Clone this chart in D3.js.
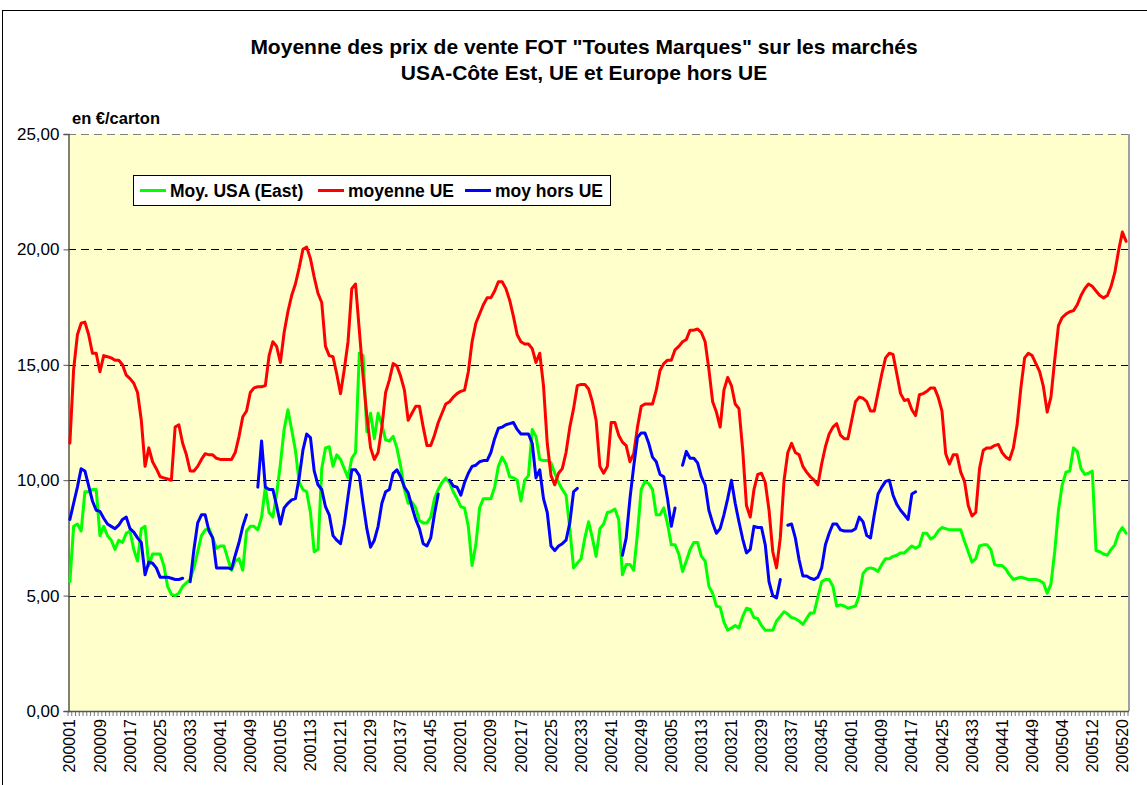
<!DOCTYPE html>
<html>
<head>
<meta charset="utf-8">
<script src="https://cdn.jsdelivr.net/npm/d3@7"></script>
<style>
  body { margin: 0; background: #fff; }
  svg { display: block; font-family: "Liberation Sans", Arial, sans-serif; }
</style>
</head>
<body>
<svg id="chart"></svg>
<script>
// weeks per year shown on the category axis (200001 .. 200521)
let yearWeeks = [[2000, 52], [2001, 52], [2002, 52], [2003, 52], [2004, 53], [2005, 21]]
let weeks = []
yearWeeks.forEach(([yr, n]) => {
  for (let k = 1; k <= n; k++) weeks.push(yr + String(k).padStart(2, '0'))
})

let yTicks = [0, 5, 10, 15, 20, 25]
let seriesNames = ['Moy. USA (East)', 'moyenne UE', 'moy hors UE']

// Moy. USA (East)
let usa = [
  5.6, 8.0, 8.1, 7.8, 9.5, 9.5, 9.6, 9.6, 7.6, 8.0,
  7.6, 7.4, 7.0, 7.4, 7.3, 7.7, 7.8, 7.0, 6.5, 7.9,
  8.0, 6.3, 6.8, 6.8, 6.8, 6.3, 5.4, 5.05, 5.0, 5.1,
  5.4, 5.55, 5.7, 6.2, 6.9, 7.6, 7.85, 7.9, 7.5, 7.05,
  7.15, 7.15, 6.6, 6.1, 6.5, 6.6, 6.1, 7.8, 8.0, 8.0,
  7.85, 8.4, 9.7, 8.6, 8.4, 9.4, 10.7, 12.2, 13.05, 12.2,
  11.3, 9.9, 9.6, 9.5, 8.6, 6.9, 7.0, 10.5, 11.4, 11.45,
  10.6, 11.1, 10.9, 10.5, 10.1, 10.95, 11.2, 15.5, 15.4, 12.1,
  12.9, 11.8, 12.9, 12.4, 11.75, 11.7, 11.9, 11.4, 10.6, 9.6,
  9.0, 9.05, 8.8, 8.25, 8.15, 8.15, 8.4, 9.2, 9.6, 9.9,
  10.1, 9.9, 9.5, 9.2, 8.85, 8.8, 8.0, 6.3, 7.2, 8.8,
  9.2, 9.2, 9.2, 9.7, 10.6, 11.0, 10.7, 10.15, 10.1, 10.0,
  9.1, 10.0, 10.2, 12.2, 11.9, 10.9, 10.85, 10.85, 10.75, 10.3,
  9.9, 9.6, 9.35, 7.9, 6.2, 6.4, 6.6, 7.5, 8.2, 7.5,
  6.7, 7.9, 8.1, 8.6, 8.65, 8.75, 8.3, 5.9, 6.35, 6.35,
  6.1, 7.7, 9.6, 9.95, 9.85, 9.6, 8.5, 8.5, 8.8, 8.1,
  7.2, 7.2, 6.8, 6.05, 6.5, 7.0, 7.3, 7.3, 6.7, 6.5,
  5.4, 5.1, 4.55, 4.5, 3.85, 3.5, 3.6, 3.7, 3.6, 4.1,
  4.45, 4.4, 4.05, 4.0, 3.7, 3.5, 3.5, 3.5, 3.9, 4.1,
  4.3, 4.2, 4.05, 4.0, 3.9, 3.75, 4.0, 4.25, 4.25, 4.95,
  5.6, 5.7, 5.7, 5.4, 4.55, 4.6, 4.55, 4.45, 4.5, 4.55,
  5.0, 5.95, 6.15, 6.2, 6.15, 6.05, 6.35, 6.6, 6.6, 6.7,
  6.75, 6.85, 6.85, 7.0, 7.15, 7.05, 7.15, 7.7, 7.7, 7.45,
  7.55, 7.8, 7.95, 7.9, 7.85, 7.85, 7.85, 7.85, 7.35, 6.9,
  6.45, 6.6, 7.15, 7.2, 7.2, 7.0, 6.35, 6.3, 6.3, 6.15,
  5.9, 5.7, 5.75, 5.8, 5.75, 5.7, 5.7, 5.7, 5.65, 5.55,
  5.1, 5.5, 6.9, 8.7, 9.8, 10.35, 10.4, 11.4, 11.25, 10.5,
  10.25, 10.3, 10.4, 6.95, 6.9, 6.8, 6.75, 7.0, 7.2, 7.7,
  7.95, 7.7
]

// moyenne UE
let ue = [
  11.6, 14.8, 16.3, 16.8, 16.85, 16.3, 15.5, 15.5, 14.7, 15.4,
  15.35, 15.3, 15.2, 15.2, 15.0, 14.55, 14.4, 14.2, 13.8, 12.6,
  10.6, 11.4, 10.8, 10.5, 10.15, 10.1, 10.05, 10.0, 12.3, 12.4,
  11.6, 11.1, 10.4, 10.4, 10.6, 10.9, 11.15, 11.1, 11.1, 10.95,
  10.9, 10.9, 10.9, 10.9, 11.2, 11.9, 12.75, 13.0, 13.8, 14.0,
  14.05, 14.05, 14.1, 15.4, 16.0, 15.8, 15.1, 16.4, 17.3, 18.0,
  18.5, 19.2, 20.0, 20.1, 19.6, 18.8, 18.1, 17.7, 15.8, 15.4,
  15.35, 14.6, 13.75, 14.8, 16.0, 18.3, 18.5, 16.5, 14.5, 12.8,
  11.4, 10.9, 11.2, 12.3, 13.8, 14.35, 15.05, 14.95, 14.5, 13.9,
  12.6, 12.9, 13.2, 13.2, 12.3, 11.5, 11.5, 11.95, 12.5, 12.9,
  13.3, 13.4, 13.6, 13.75, 13.85, 13.9, 14.7, 16.0, 16.8, 17.2,
  17.6, 17.9, 17.9, 18.2, 18.6, 18.6, 18.3, 17.8, 17.1, 16.3,
  16.0, 15.9, 15.9, 15.7, 15.1, 15.5, 14.1, 11.6, 10.2, 9.8,
  10.3, 10.5, 11.2, 12.3, 13.1, 14.1, 14.15, 14.15, 13.95, 13.4,
  12.6, 10.6, 10.3, 10.6, 12.5, 12.5, 11.95, 11.65, 11.5, 10.8,
  11.15, 12.3, 13.2, 13.3, 13.3, 13.3, 13.9, 14.75, 15.05, 15.2,
  15.2, 15.65, 15.8, 16.0, 16.1, 16.5, 16.5, 16.55, 16.4, 16.0,
  14.8, 13.4, 12.95, 12.3, 13.9, 14.45, 14.1, 13.3, 13.1, 11.3,
  8.9, 8.4, 9.6, 10.25, 10.3, 9.9, 8.7, 6.9, 6.2, 7.5,
  10.0, 11.2, 11.6, 11.2, 11.1, 10.6, 10.35, 10.15, 10.0, 9.8,
  10.7, 11.45, 12.0, 12.3, 12.45, 11.95, 11.8, 11.8, 12.6, 13.4,
  13.6, 13.55, 13.4, 13.0, 13.0, 13.8, 14.6, 15.3, 15.5, 15.45,
  14.6, 13.75, 13.45, 13.5, 13.05, 12.8, 13.7, 13.75, 13.85, 14.0,
  14.0, 13.6, 13.0, 11.15, 10.7, 11.1, 11.1, 10.35, 9.95, 8.9,
  8.45, 8.6, 10.5, 11.3, 11.4, 11.4, 11.5, 11.55, 11.2, 11.0,
  10.9, 11.4, 12.4, 14.0, 15.3, 15.5, 15.4, 15.05, 14.7, 14.05,
  12.95, 13.6, 15.2, 16.7, 17.05, 17.2, 17.3, 17.35, 17.6, 18.0,
  18.3, 18.5, 18.4, 18.2, 18.0, 17.9, 18.0, 18.4, 19.0, 19.95,
  20.75, 20.35
]

// moy hors UE (null = no value that week)
let horsUe = [
  8.3, 9.0, 9.7, 10.5, 10.4, 9.75, 9.1, 8.7, 8.65, 8.35,
  8.1, 8.0, 7.9, 8.05, 8.3, 8.4, 7.9, 7.75, 7.5, 7.3,
  5.9, 6.45, 6.4, 6.2, 5.8, 5.8, 5.8, 5.75, 5.7, 5.7,
  5.75, null, 5.6, 7.0, 8.15, 8.5, 8.5, 7.8, 7.5, 6.2,
  6.2, 6.2, 6.2, 6.15, 6.75, 7.3, 8.0, 8.5, null, null,
  9.7, 11.7, 9.7, 9.6, 9.6, 8.9, 8.1, 8.8, 9.0, 9.15,
  9.2, 10.1, 11.3, 12.0, 11.85, 10.4, 9.8, 9.6, 8.85, 8.5,
  7.6, 7.4, 7.25, 8.1, 9.3, 10.45, 10.45, 10.2, 9.0, 7.9,
  7.1, 7.4, 8.0, 9.0, 9.5, 9.6, 10.3, 10.45, 10.15, 9.7,
  9.45, 8.85, 8.3, 7.9, 7.25, 7.15, 7.5, 8.55, 9.4, null,
  null, 10.0, 9.75, 9.7, 9.35, 9.9, 10.3, 10.6, 10.65, 10.8,
  10.85, 10.85, 11.2, 11.8, 12.25, 12.3, 12.4, 12.45, 12.5, 12.2,
  12.0, 12.0, 12.0, 11.6, 10.1, 10.45, 9.2, 8.6, 7.15, 6.95,
  7.15, 7.25, 7.4, 8.15, 9.5, 9.65, null, null, null, null,
  null, null, null, null, null, null, null, 6.75, 7.5, 9.2,
  10.6, 11.85, 12.05, 12.05, 11.6, 11.0, 10.8, 10.25, 10.15, 9.2,
  8.0, 8.8, null, 10.65, 11.25, 10.95, 10.95, 10.75, 10.15, 9.8,
  8.7, 8.15, 7.7, 7.9, 8.5, 9.2, 10.0, 9.0, 8.2, 7.45,
  6.85, 7.0, 8.0, 7.95, 7.95, 7.2, 5.6, 5.0, 4.9, 5.7,
  null, 8.05, 8.1, 7.5, 6.55, 5.85, 5.85, 5.75, 5.7, 5.8,
  6.2, 7.2, 7.7, 8.1, 8.1, 7.85, 7.8, 7.8, 7.8, 7.9,
  8.4, 8.2, 7.6, 7.5, 8.5, 9.4, 9.7, 9.95, 10.0, 9.35,
  8.95, 8.7, 8.5, 8.3, 9.4, 9.5
]

let colors = ['#00ff00', '#ff0000', '#0000ff']

let w = 1147
let h = 785
let plotLeft = 68
let plotRight = 1128
let plotTop = 134
let plotBottom = 711

let svg = d3.select('#chart').attr('width', w).attr('height', h)

let xScale = d3.scaleBand().domain(weeks).range([plotLeft, plotRight]).padding(0)
let yScale = d3.scaleLinear().domain([0, 25]).range([plotBottom, plotTop])
let xc = (i) => xScale(weeks[i]) + xScale.bandwidth() / 2

// outer chart border
svg.append('rect')
  .attr('x', 2.5).attr('y', 10.5)
  .attr('width', w + 10).attr('height', h + 10)
  .attr('fill', '#fff').attr('stroke', '#000').attr('stroke-width', 1)

// plot area
svg.append('rect')
  .attr('x', plotLeft).attr('y', plotTop)
  .attr('width', plotRight - plotLeft).attr('height', plotBottom - plotTop)
  .attr('fill', '#ffffcc')

svg.append('line')
  .attr('x1', plotRight + 1).attr('x2', plotRight + 1)
  .attr('y1', plotTop).attr('y2', plotBottom)
  .attr('stroke', '#a0a0a0').attr('stroke-width', 2)

// dashed gridlines
svg.append('g')
  .selectAll('line')
  .data(yTicks.filter(d => d > 0))
  .enter()
  .append('line')
  .attr('x1', plotLeft).attr('x2', plotRight)
  .attr('y1', d => Math.round(yScale(d)) + 0.5)
  .attr('y2', d => Math.round(yScale(d)) + 0.5)
  .attr('stroke', d => d === 25 ? '#808080' : '#000')
  .attr('stroke-width', 1)
  .attr('stroke-dasharray', '8,5')

// title
let title = svg.append('text')
  .attr('x', 584).attr('text-anchor', 'middle')
  .attr('font-weight', 'bold').attr('font-size', 21)
title.append('tspan').attr('x', 584).attr('y', 54)
  .text('Moyenne des prix de vente FOT "Toutes Marques" sur les marchés')
title.append('tspan').attr('x', 584).attr('y', 80)
  .text('USA-Côte Est, UE et Europe hors UE')

svg.append('text')
  .attr('x', 72).attr('y', 124)
  .attr('font-weight', 'bold').attr('font-size', 16.5)
  .text('en €/carton')

// y axis
let yAxis = d3.axisLeft(yScale)
  .tickValues(yTicks)
  .tickSize(5)
  .tickPadding(4)
  .tickFormat(d => d3.format('.2f')(d).replace('.', ','))

let gy = svg.append('g')
  .attr('transform', 'translate(' + (plotLeft + 0.5) + ',0)')
  .call(yAxis)
gy.select('.domain').attr('stroke', '#555').attr('stroke-width', 1.5)
gy.selectAll('.tick line').attr('stroke', '#555')
gy.selectAll('text').attr('font-size', 17).attr('fill', '#000')
  .attr('font-family', '"Liberation Sans", Arial, sans-serif')

// x axis: labels every 8 weeks, tick marks between categories
let labelWeeks = weeks.filter((d, i) => i % 8 === 0)
let xAxis = d3.axisBottom(xScale)
  .tickValues(labelWeeks)
  .tickSize(0)
  .tickPadding(0)

let gx = svg.append('g')
  .attr('transform', 'translate(0,' + plotBottom + ')')
  .call(xAxis)
gx.select('.domain').remove()
gx.selectAll('text')
  .attr('font-size', 16)
  .attr('fill', '#000')
  .attr('font-family', '"Liberation Sans", Arial, sans-serif')
  .attr('text-anchor', 'end')
  .attr('dy', '0.35em')
  .attr('transform', 'translate(0,8) rotate(-90)')
  .attr('x', 0).attr('y', 0)

svg.append('g')
  .selectAll('line')
  .data(weeks.concat(['end']))
  .enter()
  .append('line')
  .attr('x1', (d, i) => plotLeft + i * xScale.bandwidth())
  .attr('x2', (d, i) => plotLeft + i * xScale.bandwidth())
  .attr('y1', plotBottom).attr('y2', plotBottom + 5)
  .attr('stroke', '#555').attr('stroke-width', 0.8)

svg.append('line')
  .attr('x1', plotLeft).attr('x2', plotRight + 1)
  .attr('y1', plotBottom + 0.5).attr('y2', plotBottom + 0.5)
  .attr('stroke', '#555').attr('stroke-width', 1.5)

// series lines
let line = d3.line()
  .defined(d => d !== null && d !== undefined)
  .x((d, i) => xc(i))
  .y(d => yScale(d))

let allSeries = [usa, ue, horsUe]
svg.append('g')
  .selectAll('path')
  .data(allSeries)
  .enter()
  .append('path')
  .attr('d', d => line(d))
  .attr('fill', 'none')
  .attr('stroke', (d, i) => colors[i])
  .attr('stroke-width', 3)
  .attr('stroke-linejoin', 'round')
  .attr('stroke-linecap', 'round')

// legend
let legend = svg.append('g')
legend.append('rect')
  .attr('x', 133.5).attr('y', 175.5)
  .attr('width', 477).attr('height', 30)
  .attr('fill', '#fff').attr('stroke', '#000')

let legendX = [140, 318, 465]
seriesNames.forEach((name, i) => {
  legend.append('line')
    .attr('x1', legendX[i]).attr('x2', legendX[i] + 26)
    .attr('y1', 190.5).attr('y2', 190.5)
    .attr('stroke', colors[i]).attr('stroke-width', 3)
  legend.append('text')
    .attr('x', legendX[i] + 30).attr('y', 197)
    .attr('font-weight', 'bold').attr('font-size', 17.5)
    .text(name)
})
</script>
</body>
</html>
